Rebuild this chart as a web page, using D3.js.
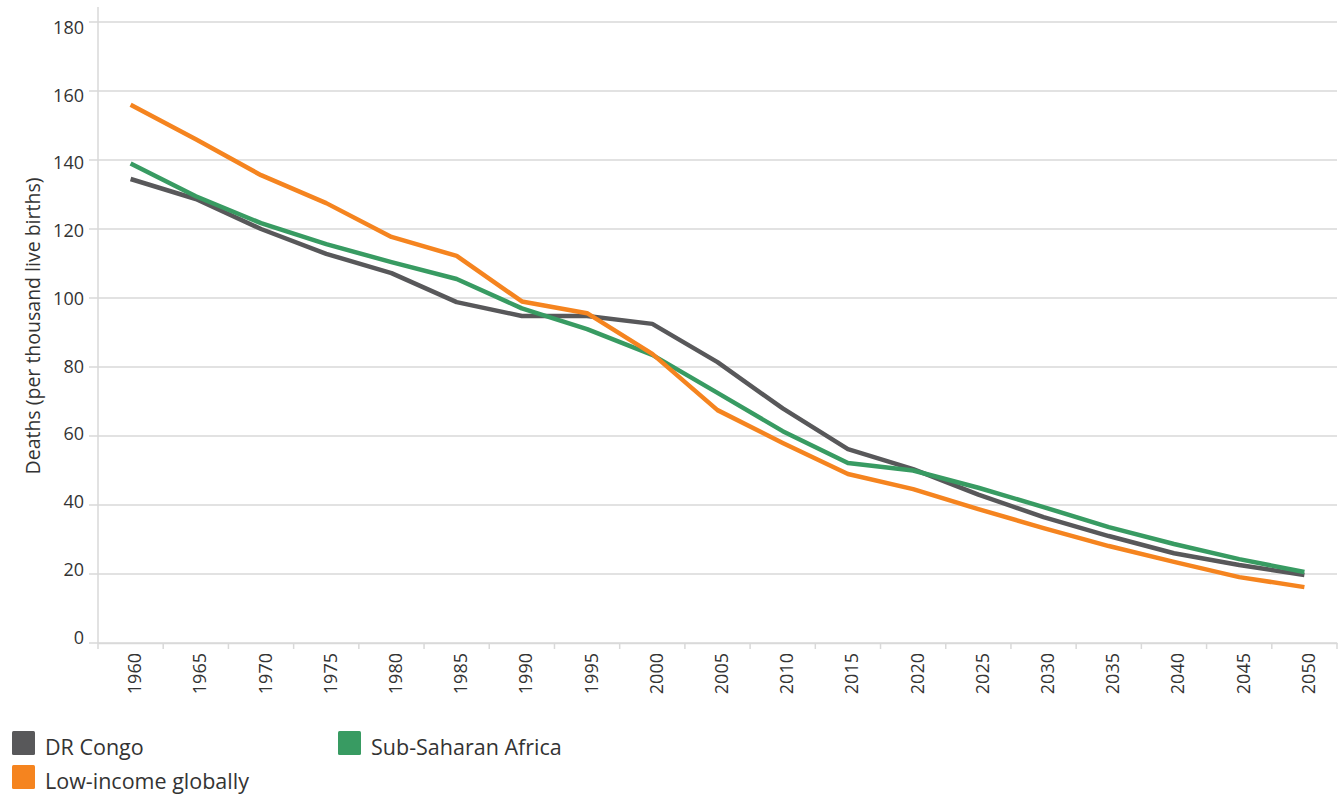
<!DOCTYPE html>
<html>
<head>
<meta charset="utf-8">
<script src="https://cdn.jsdelivr.net/npm/d3@7"></script>
<style>
  body { margin: 0; background: #fff; }
  svg text { font-family: "Open Sans", sans-serif; }
</style>
</head>
<body>
<script>
// data
let years = ["1960","1965","1970","1975","1980","1985","1990","1995","2000","2005",
             "2010","2015","2020","2025","2030","2035","2040","2045","2050"];
let drCongo   = [134.5,128.7,120,112.8,107.2,98.8,94.8,94.8,92.5,81.4,68,56.2,50.4,43,36.5,31,26,22.6,19.7];
let subSahara = [139,129.5,121.7,115.6,110.4,105.5,97,91,83.5,72.5,61.4,52.2,50,45,39.4,33.6,28.7,24.3,20.6];
let lowIncome = [156,146,135.6,127.5,117.7,112.2,99,95.6,83.8,67.5,58,49,44.6,38.8,33.3,28.1,23.5,19.1,16.2];
let yTicks = [0,20,40,60,80,100,120,140,160,180];

let seriesNames = ["DR Congo", "Sub-Saharan Africa", "Low-income globally"];
let seriesColors = ["#58585a", "#389b62", "#f5841f"];

let canvasW = 1343;
let canvasH = 798;
let plotL = 98, plotR = 1337, plotT = 22, plotB = 643;

let svg = d3.select("body").append("svg")
  .attr("width", canvasW)
  .attr("height", canvasH);

let x = d3.scaleBand().domain(years).range([plotL, plotR]);
let y = d3.scaleLinear().domain([0, 180]).range([plotB, plotT]);
// the labels in the original sit on a slightly tighter spacing than the grid
let yLab = d3.scaleLinear().domain([0, 180]).range([637, 27.5]);

// gridlines
svg.append("g")
  .selectAll("line")
  .data(yTicks)
  .enter().append("line")
    .attr("x1", plotL - 9)
    .attr("x2", plotR)
    .attr("y1", d => y(d))
    .attr("y2", d => y(d))
    .attr("stroke", "#d9d9d9")
    .attr("stroke-width", 1.5);

// left axis line
svg.append("line")
  .attr("x1", plotL).attr("x2", plotL)
  .attr("y1", 7).attr("y2", plotB)
  .attr("stroke", "#d9d9d9")
  .attr("stroke-width", 1.5);

// y labels
svg.append("g")
  .selectAll("text")
  .data(yTicks)
  .enter().append("text")
    .attr("x", 84)
    .attr("y", d => yLab(d) + 6.5)
    .attr("text-anchor", "end")
    .attr("font-size", "18px")
    .attr("fill", "#333")
    .text(d => d);

svg.append("text")
  .attr("transform", "translate(40,326) rotate(-90)")
  .attr("text-anchor", "middle")
  .attr("font-size", "19.5px")
  .attr("fill", "#333")
  .text("Deaths (per thousand live births)");

// x axis with band boundary ticks
let xAxis = svg.append("g")
  .attr("transform", "translate(0," + plotB + ")")
  .call(d3.axisBottom(x).tickSize(0).tickPadding(0));
xAxis.select(".domain").attr("stroke", "#d9d9d9").attr("stroke-width", 1.5);
xAxis.selectAll(".tick text")
  .attr("font-family", "Open Sans, sans-serif")
  .attr("font-size", "18px")
  .attr("fill", "#333")
  .attr("transform", "translate(10.5,10) rotate(-90)")
  .attr("text-anchor", "end")
  .attr("dy", 0)
  .attr("y", 0)
  .attr("x", 0);

let bounds = years.map(d => x(d)).concat([plotR]);
svg.append("g")
  .selectAll("line")
  .data(bounds)
  .enter().append("line")
    .attr("x1", d => d).attr("x2", d => d)
    .attr("y1", plotB).attr("y2", plotB + 6)
    .attr("stroke", "#d9d9d9")
    .attr("stroke-width", 1.5);

// lines
let line = d3.line()
  .x((d, i) => x(years[i]) + x.bandwidth() / 2)
  .y(d => y(d));

[drCongo, subSahara, lowIncome].forEach((s, i) => {
  svg.append("path")
    .datum(s)
    .attr("fill", "none")
    .attr("stroke", seriesColors[i])
    .attr("stroke-width", 4.5)
    .attr("stroke-linejoin", "round")
    .attr("d", line);
});

// legend
let legendPos = [[12, 731], [338, 731], [12, 765]];
seriesNames.forEach((name, i) => {
  svg.append("rect")
    .attr("x", legendPos[i][0])
    .attr("y", legendPos[i][1])
    .attr("width", 23)
    .attr("height", 24)
    .attr("rx", 1.5)
    .attr("fill", seriesColors[i]);
  svg.append("text")
    .attr("x", legendPos[i][0] + 33)
    .attr("y", legendPos[i][1] + 24)
    .attr("font-size", "21.5px")
    .attr("fill", "#333")
    .text(name);
});
</script>
</body>
</html>
